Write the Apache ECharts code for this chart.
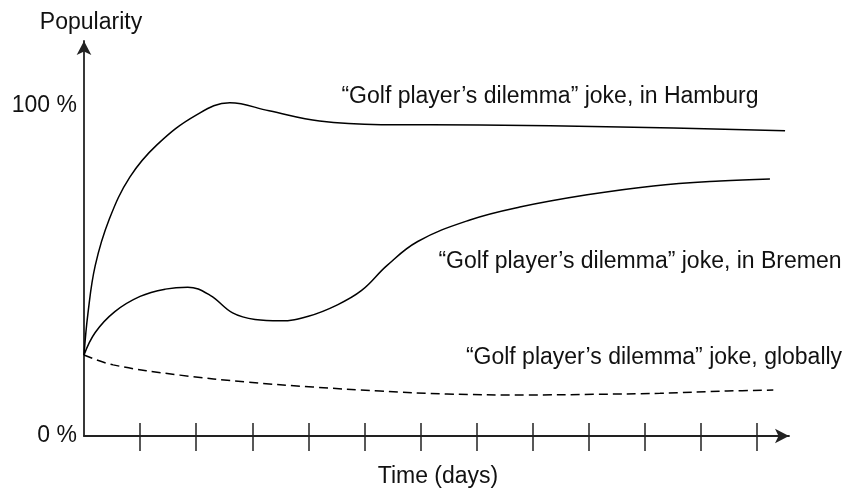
<!DOCTYPE html>
<html>
<head>
<meta charset="utf-8">
<script src="https://cdn.jsdelivr.net/npm/echarts@6/dist/echarts.min.js"></script>
<style>
  html, body { margin: 0; padding: 0; background: #fff; }
  #chart { width: 852px; height: 488px; }
</style>
</head>
<body>
<div id="chart"></div>
<script>
// [day, popularity %]
const hamburg = [
  [0, 24.5], [0.07, 37], [0.2, 51.5], [0.45, 65.5], [0.82, 78.3],
  [1.3, 88], [2.0, 97], [2.6, 100.7], [3.3, 98.3], [4.2, 95.2],
  [5.3, 94.1], [7.06, 94], [9.56, 93.4], [12.5, 92.3]
]
const bremen = [
  [0, 24.5], [0.2, 31.3], [0.55, 37.6], [1.0, 42.2], [1.45, 44.4],
  [1.85, 45], [2.25, 42.5], [2.65, 37.2], [3.05, 35.2], [3.5, 34.8],
  [4.0, 36.2], [4.5, 39.5], [4.95, 44], [5.4, 51.5], [5.95, 58.8],
  [6.88, 65.3], [7.77, 69.2], [8.97, 72.9], [10.15, 75.6], [11.34, 77.1],
  [12.23, 77.7]
]
const globally = [
  [0, 24.5], [0.52, 21.5], [1.71, 18.4], [2.91, 16.3], [4.08, 14.8],
  [5.28, 13.6], [6.47, 12.7], [7.9, 12.4], [9.08, 12.6], [10.27, 12.9],
  [11.47, 13.6], [12.29, 13.9]
]
const dayTicks = [1, 2, 3, 4, 5, 6, 7, 8, 9, 10, 11, 12]
const yLabels = [0, 100]
const seriesNames = [
  '“Golf player’s dilemma” joke, in Hamburg',
  '“Golf player’s dilemma” joke, in Bremen',
  '“Golf player’s dilemma” joke, globally'
]

const font = '"Liberation Sans", Arial, Helvetica, sans-serif'
const ink = '#111'
const axisColor = '#222'

let myChart = echarts.init(document.getElementById('chart'))

function textEl (x, y, text, size) {
  return {
    type: 'text',
    x: x,
    y: y,
    style: {
      text: text,
      fill: ink,
      font: size + 'px ' + font,
      textAlign: 'center',
      textVerticalAlign: 'middle'
    }
  }
}

let lineSeries = (name, data, dashed) => ({
  name: name,
  type: 'line',
  data: data,
  smooth: 0.4,
  symbol: 'none',
  lineStyle: { color: '#000', width: 1.5, type: dashed ? [9, 5] : 'solid' }
})

myChart.setOption({
  animation: false,
  backgroundColor: '#fff',
  grid: { left: 84, right: 63, top: 41, bottom: 52 },
  xAxis: [
    {
      type: 'value',
      min: 0,
      max: 12.57,
      axisLine: {
        show: true,
        lineStyle: { color: axisColor, width: 1.8 },
        symbol: ['none', 'arrow'],
        symbolSize: [11, 14]
      },
      axisTick: { show: true, length: 15, customValues: dayTicks, lineStyle: { color: axisColor, width: 1.5 } },
      axisLabel: { show: false },
      splitLine: { show: false }
    },
    {
      type: 'value',
      min: 0,
      max: 12.57,
      position: 'bottom',
      axisLine: { show: false },
      axisTick: { show: true, inside: true, length: 13, customValues: dayTicks, lineStyle: { color: axisColor, width: 1.5 } },
      axisLabel: { show: false },
      splitLine: { show: false }
    }
  ],
  yAxis: {
    type: 'value',
    min: 0,
    max: 119.4,
    axisLine: {
      show: true,
      lineStyle: { color: axisColor, width: 1.8 },
      symbol: ['none', 'arrow'],
      symbolSize: [11, 14]
    },
    axisTick: { show: false },
    axisLabel: {
      customValues: yLabels,
      formatter: '{value} %',
      color: ink,
      fontFamily: font,
      fontSize: 23,
      margin: 7
    },
    splitLine: { show: false }
  },
  graphic: [
    textEl(91, 23, 'Popularity', 23),
    textEl(438, 477, 'Time (days)', 23),
    textEl(550, 97, seriesNames[0], 23),
    textEl(640, 262, seriesNames[1], 23),
    textEl(654, 358, seriesNames[2], 23)
  ],
  series: [
    lineSeries(seriesNames[0], hamburg, false),
    lineSeries(seriesNames[1], bremen, false),
    lineSeries(seriesNames[2], globally, true)
  ]
})

window.addEventListener('resize', () => {
  myChart.resize()
})
</script>
</body>
</html>
